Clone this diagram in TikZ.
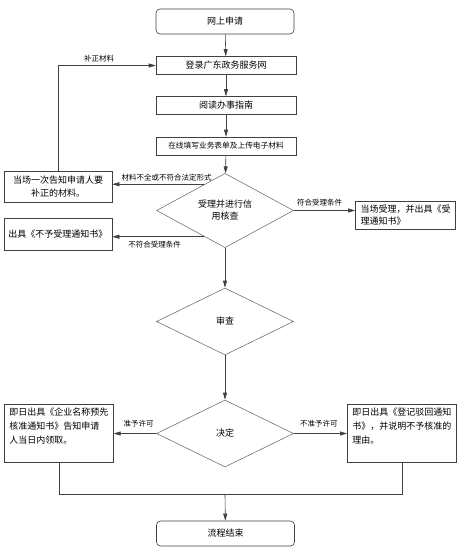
\documentclass[tikz,border=0pt]{standalone}
\usepackage{fontspec}
\setmainfont{Noto Sans CJK SC}
\usetikzlibrary{positioning, arrows.meta, shapes.geometric, calc}

\begin{document}
\begin{tikzpicture}[
    x=1pt, y=-1pt, >={Triangle[length=7pt, width=4pt]},
    font=\fontsize{9}{13}\selectfont, line width=0.6pt,
    base_box/.style ={draw=black!75, inner sep=0pt, align=center},
    step_box/.style ={base_box, minimum width=140pt, minimum height=18pt},
    term_box/.style ={base_box, rounded corners=4pt, minimum width=138pt, minimum height=25pt},
    side_box/.style ={base_box, minimum width=108pt, minimum height=31pt},
    note_box/.style ={draw=black!75, align=left, text width=99pt, inner xsep=5pt, inner ysep=4pt,
                      anchor=north west, font=\fontsize{9}{14}\selectfont},
    check/.style    ={draw=black!55, diamond, minimum width=137pt, minimum height=67pt,
                      inner sep=0pt, align=center, font=\fontsize{9}{12}\selectfont},
    flow/.style     ={draw=black!75, ->},
    tag/.style      ={font=\fontsize{7.5}{9}\selectfont, inner sep=1pt}
]
\useasboundingbox (0,0) rectangle (463,549);

% Online steps
\node[term_box] (apply)  at (225,21.5)  {网上申请};
\node[step_box] (login)  at (226,65.5)  {登录广东政务服务网};
\node[step_box] (guide)  at (226,105.5) {阅读办事指南};
\node[step_box, font=\fontsize{7.7}{9}\selectfont] (upload) at (226,146) {在线填写业务表单及上传电子材料};

% Checks
\node[check] (accept_chk) at (225,210.5) {受理并进行信\\用核查};
\node[check] (review_chk) at (225,321.5) {审查};
\node[check] (decide_chk) at (225,433.5) {决定};

% Side boxes
\node[side_box] (supply_note) at (58,186.5) {当场一次告知申请人要\\补正的材料。};
\node[side_box, minimum height=32pt] (reject_note) at (58,234) {出具《不予受理通知书》};
\node[draw=black!75, align=left, text width=90pt, inner xsep=5pt, inner ysep=3pt,
      minimum height=28pt, font=\fontsize{9}{11.5}\selectfont] (accept_note) at (405.5,215)
    {当场受理，并出具《受\\理通知书》};
\node[note_box, text depth=42pt] (approve_note) at (4,404)
    {即日出具《企业名称预先\\核准通知书》告知申请\\人当日内领取。};
\node[note_box, text depth=42pt] (deny_note) at (347,404)
    {即日出具《登记驳回通知\\书》，并说明不予核准的\\理由。};

\node[term_box] (finish) at (225.5,533.5) {流程结束};

% Main flow
\draw[flow] (apply) -- (login);
\draw[flow] (login) -- (guide);
\draw[flow] (guide) -- (upload);
\draw[flow] (upload) -- (accept_chk);
\draw[flow] (accept_chk) -- (review_chk);
\draw[flow] (review_chk) -- (decide_chk);

% Branches of the first check
\coordinate (short_pt)  at ($(accept_chk.west)!0.7!(accept_chk.north)$);
\coordinate (refuse_pt) at ($(accept_chk.west)!0.7!(accept_chk.south)$);
\draw[flow] (short_pt) -- (short_pt -| supply_note.east)
    node[tag, above=2pt, pos=0.41] {材料不全或不符合法定形式};
\draw[flow] (refuse_pt) -- (refuse_pt -| reject_note.east)
    node[tag, below=3pt, pos=0.54] {不符合受理条件};
\draw[flow] (accept_chk.east) -- (accept_chk.east -| accept_note.west)
    node[tag, above=3pt, pos=0.42] {符合受理条件};
\draw[flow] (supply_note.north) |- (login.west)
    node[tag, above=2pt, pos=0.71] {补正材料};

% Decision
\draw[flow] (decide_chk.west) -- (decide_chk.west -| approve_note.east)
    node[tag, above=5pt, pos=0.41] {准予许可};
\draw[flow] (decide_chk.east) -- (decide_chk.east -| deny_note.west)
    node[tag, above=5pt, pos=0.47] {不准予许可};

% Merge
\coordinate (merge) at (225,494);
\draw[draw=black!75] (approve_note.south) |- (deny_note.south |- merge) -- (deny_note.south);
\draw[flow] (merge) -- (finish);

\end{tikzpicture}
\end{document}
